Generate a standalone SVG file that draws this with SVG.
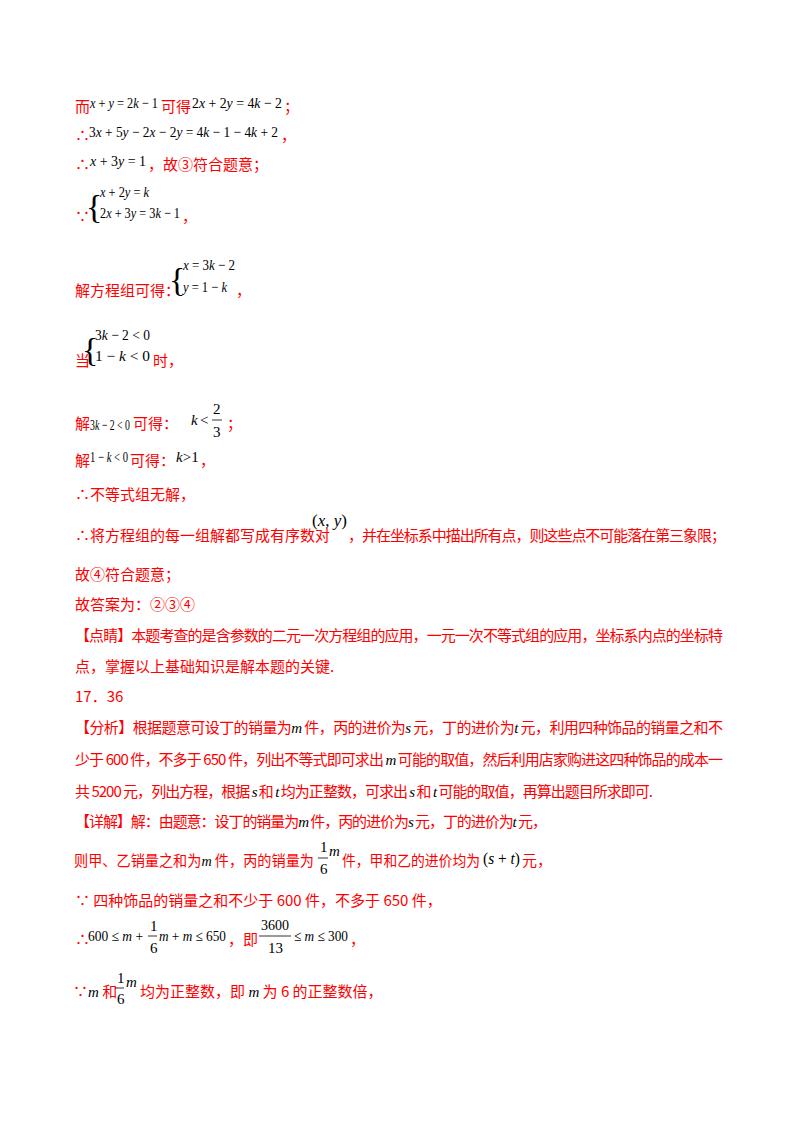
<svg xmlns="http://www.w3.org/2000/svg" width="800" height="1132" viewBox="0 0 800 1132">
<style>
text{font-family:"Noto Sans CJK SC","Liberation Sans",sans-serif;font-size:15px;fill:#ff0000}
.m{font-family:"Liberation Serif",serif;font-size:15px;fill:#000}
.i{font-style:italic}
.br{font-family:"Liberation Serif",serif;font-size:34px;fill:#000}
.fl{stroke:#000;stroke-width:0.8}
</style>
<rect width="800" height="1132" fill="#fff"/>
<text x="75" y="112">而</text>
<text class="m" x="90" y="108" textLength="68" lengthAdjust="spacingAndGlyphs"><tspan class="i">x</tspan> + <tspan class="i">y</tspan> = 2<tspan class="i">k</tspan> − 1</text>
<text x="161" y="112">可得</text>
<text class="m" x="192" y="108" textLength="90" lengthAdjust="spacingAndGlyphs">2<tspan class="i">x</tspan> + 2<tspan class="i">y</tspan> = 4<tspan class="i">k</tspan> − 2</text>
<text x="284" y="112">；</text>
<text x="75" y="141">∴</text>
<text class="m" x="89" y="137" textLength="189" lengthAdjust="spacingAndGlyphs">3<tspan class="i">x</tspan> + 5<tspan class="i">y</tspan> − 2<tspan class="i">x</tspan> − 2<tspan class="i">y</tspan> = 4<tspan class="i">k</tspan> − 1 − 4<tspan class="i">k</tspan> + 2</text>
<text x="281" y="141">，</text>
<text x="75" y="170">∴</text>
<text class="m" x="90" y="166" textLength="56" lengthAdjust="spacingAndGlyphs"><tspan class="i">x</tspan> + 3<tspan class="i">y</tspan> = 1</text>
<text x="148" y="170">，故③符合题意；</text>
<text class="br" x="86" y="218">{</text>
<text class="m" x="100" y="197" textLength="49" lengthAdjust="spacingAndGlyphs"><tspan class="i">x</tspan> + 2<tspan class="i">y</tspan> = <tspan class="i">k</tspan></text>
<text class="m" x="100" y="218" textLength="80" lengthAdjust="spacingAndGlyphs">2<tspan class="i">x</tspan> + 3<tspan class="i">y</tspan> = 3<tspan class="i">k</tspan> − 1</text>
<text x="75" y="222">∵</text>
<text x="182" y="222">，</text>
<text x="75" y="296">解方程组可得：</text>
<text class="br" x="169" y="291">{</text>
<text class="m" x="183" y="270" textLength="52" lengthAdjust="spacingAndGlyphs"><tspan class="i">x</tspan> = 3<tspan class="i">k</tspan> − 2</text>
<text class="m" x="183" y="292" textLength="44" lengthAdjust="spacingAndGlyphs"><tspan class="i">y</tspan> = 1 − <tspan class="i">k</tspan></text>
<text x="236" y="296">，</text>
<text class="br" x="82" y="361">{</text>
<text class="m" x="95" y="340" textLength="55" lengthAdjust="spacingAndGlyphs">3<tspan class="i">k</tspan> − 2 &lt; 0</text>
<text class="m" x="95" y="361" textLength="55" lengthAdjust="spacingAndGlyphs">1 − <tspan class="i">k</tspan> &lt; 0</text>
<text x="75" y="366">当</text>
<text x="153" y="366">时，</text>
<text x="75" y="429">解</text>
<text class="m" x="90" y="430" textLength="40" lengthAdjust="spacingAndGlyphs">3<tspan class="i">k</tspan> − 2 &lt; 0</text>
<text x="133" y="429">可得：</text>
<text class="m i" x="191" y="425">k</text>
<text class="m" x="200" y="425">&lt;</text>
<text class="m" x="213" y="414">2</text>
<line class="fl" x1="212" y1="420" x2="222" y2="420"/>
<text class="m" x="213" y="437">3</text>
<text x="227" y="429">；</text>
<text x="75" y="466">解</text>
<text class="m" x="90" y="462" textLength="38" lengthAdjust="spacingAndGlyphs">1 − <tspan class="i">k</tspan> &lt; 0</text>
<text x="130" y="466">可得：</text>
<text class="m" x="176" y="462"><tspan class="i">k</tspan>&gt;1</text>
<text x="200" y="466">，</text>
<text x="75" y="500">∴不等式组无解，</text>
<text x="75" y="541">∴将方程组的每一组解都写成有序数对</text>
<text class="m" x="312" y="526" style="font-size:17px">(<tspan class="i">x</tspan>, <tspan class="i">y</tspan>)</text>
<text x="348" y="541" textLength="378">，并在坐标系中描出所有点，则这些点不可能落在第三象限；</text>
<text x="75" y="580">故④符合题意；</text>
<text x="75" y="610">故答案为：②③④</text>
<text x="75" y="641" textLength="648">【点睛】本题考查的是含参数的二元一次方程组的应用，一元一次不等式组的应用，坐标系内点的坐标特</text>
<text x="75" y="672">点，掌握以上基础知识是解本题的关键.</text>
<text x="75" y="702">17．36</text>
<text x="75" y="733" textLength="648">【分析】根据题意可设丁的销量为<tspan class="m i">m</tspan> 件，丙的进价为<tspan class="m i">s</tspan> 元，丁的进价为<tspan class="m i">t</tspan> 元，利用四种饰品的销量之和不</text>
<text x="75" y="765" textLength="648">少于 600 件，不多于 650 件，列出不等式即可求出 <tspan class="m i">m</tspan> 可能的取值，然后利用店家购进这四种饰品的成本一</text>
<text x="75" y="797" textLength="578">共 5200 元，列出方程，根据 <tspan class="m i">s</tspan> 和 <tspan class="m i">t</tspan> 均为正整数，可求出 <tspan class="m i">s</tspan> 和 <tspan class="m i">t</tspan> 可能的取值，再算出题目所求即可.</text>
<text x="75" y="827" textLength="472">【详解】解：由题意：设丁的销量为<tspan class="m i">m</tspan> 件，丙的进价为<tspan class="m i">s</tspan> 元，丁的进价为<tspan class="m i">t</tspan> 元，</text>
<text x="74" y="866" textLength="240" lengthAdjust="spacingAndGlyphs">则甲、乙销量之和为<tspan class="m i">m</tspan> 件，丙的销量为</text>
<text class="m" x="320" y="852">1</text>
<line class="fl" x1="318" y1="858" x2="328" y2="858"/>
<text class="m" x="320" y="874">6</text>
<text class="m i" x="329" y="856">m</text>
<text x="342" y="866" textLength="138" lengthAdjust="spacingAndGlyphs">件，甲和乙的进价均为</text>
<text class="m" x="483" y="864" style="font-size:17px" textLength="37" lengthAdjust="spacingAndGlyphs">(<tspan class="i">s</tspan> + <tspan class="i">t</tspan>)</text>
<text x="522" y="866">元，</text>
<text x="75" y="906">∵ 四种饰品的销量之和不少于 600 件，不多于 650 件，</text>
<text x="75" y="945">∴</text>
<text class="m" x="88" y="941" textLength="55" lengthAdjust="spacingAndGlyphs">600 ≤ <tspan class="i">m</tspan> +</text>
<text class="m" x="150" y="931">1</text>
<line class="fl" x1="148" y1="936" x2="157" y2="936"/>
<text class="m" x="150" y="953">6</text>
<text class="m" x="159" y="941" textLength="67" lengthAdjust="spacingAndGlyphs"><tspan class="i">m</tspan> + <tspan class="i">m</tspan> ≤ 650</text>
<text x="228" y="945">，即</text>
<text class="m" x="261" y="930" textLength="28" lengthAdjust="spacingAndGlyphs">3600</text>
<line class="fl" x1="259" y1="936" x2="291" y2="936"/>
<text class="m" x="268" y="953">13</text>
<text class="m" x="294" y="941" textLength="54" lengthAdjust="spacingAndGlyphs">≤ <tspan class="i">m</tspan> ≤ 300</text>
<text x="350" y="945">，</text>
<text x="73" y="997">∵<tspan class="m i">m</tspan> 和</text>
<text class="m" x="117" y="983">1</text>
<line class="fl" x1="115" y1="988" x2="124" y2="988"/>
<text class="m" x="117" y="1004">6</text>
<text class="m i" x="126" y="987">m</text>
<text x="140" y="997">均为正整数，即 <tspan class="m i">m</tspan> 为 6 的正整数倍，</text>
</svg>
